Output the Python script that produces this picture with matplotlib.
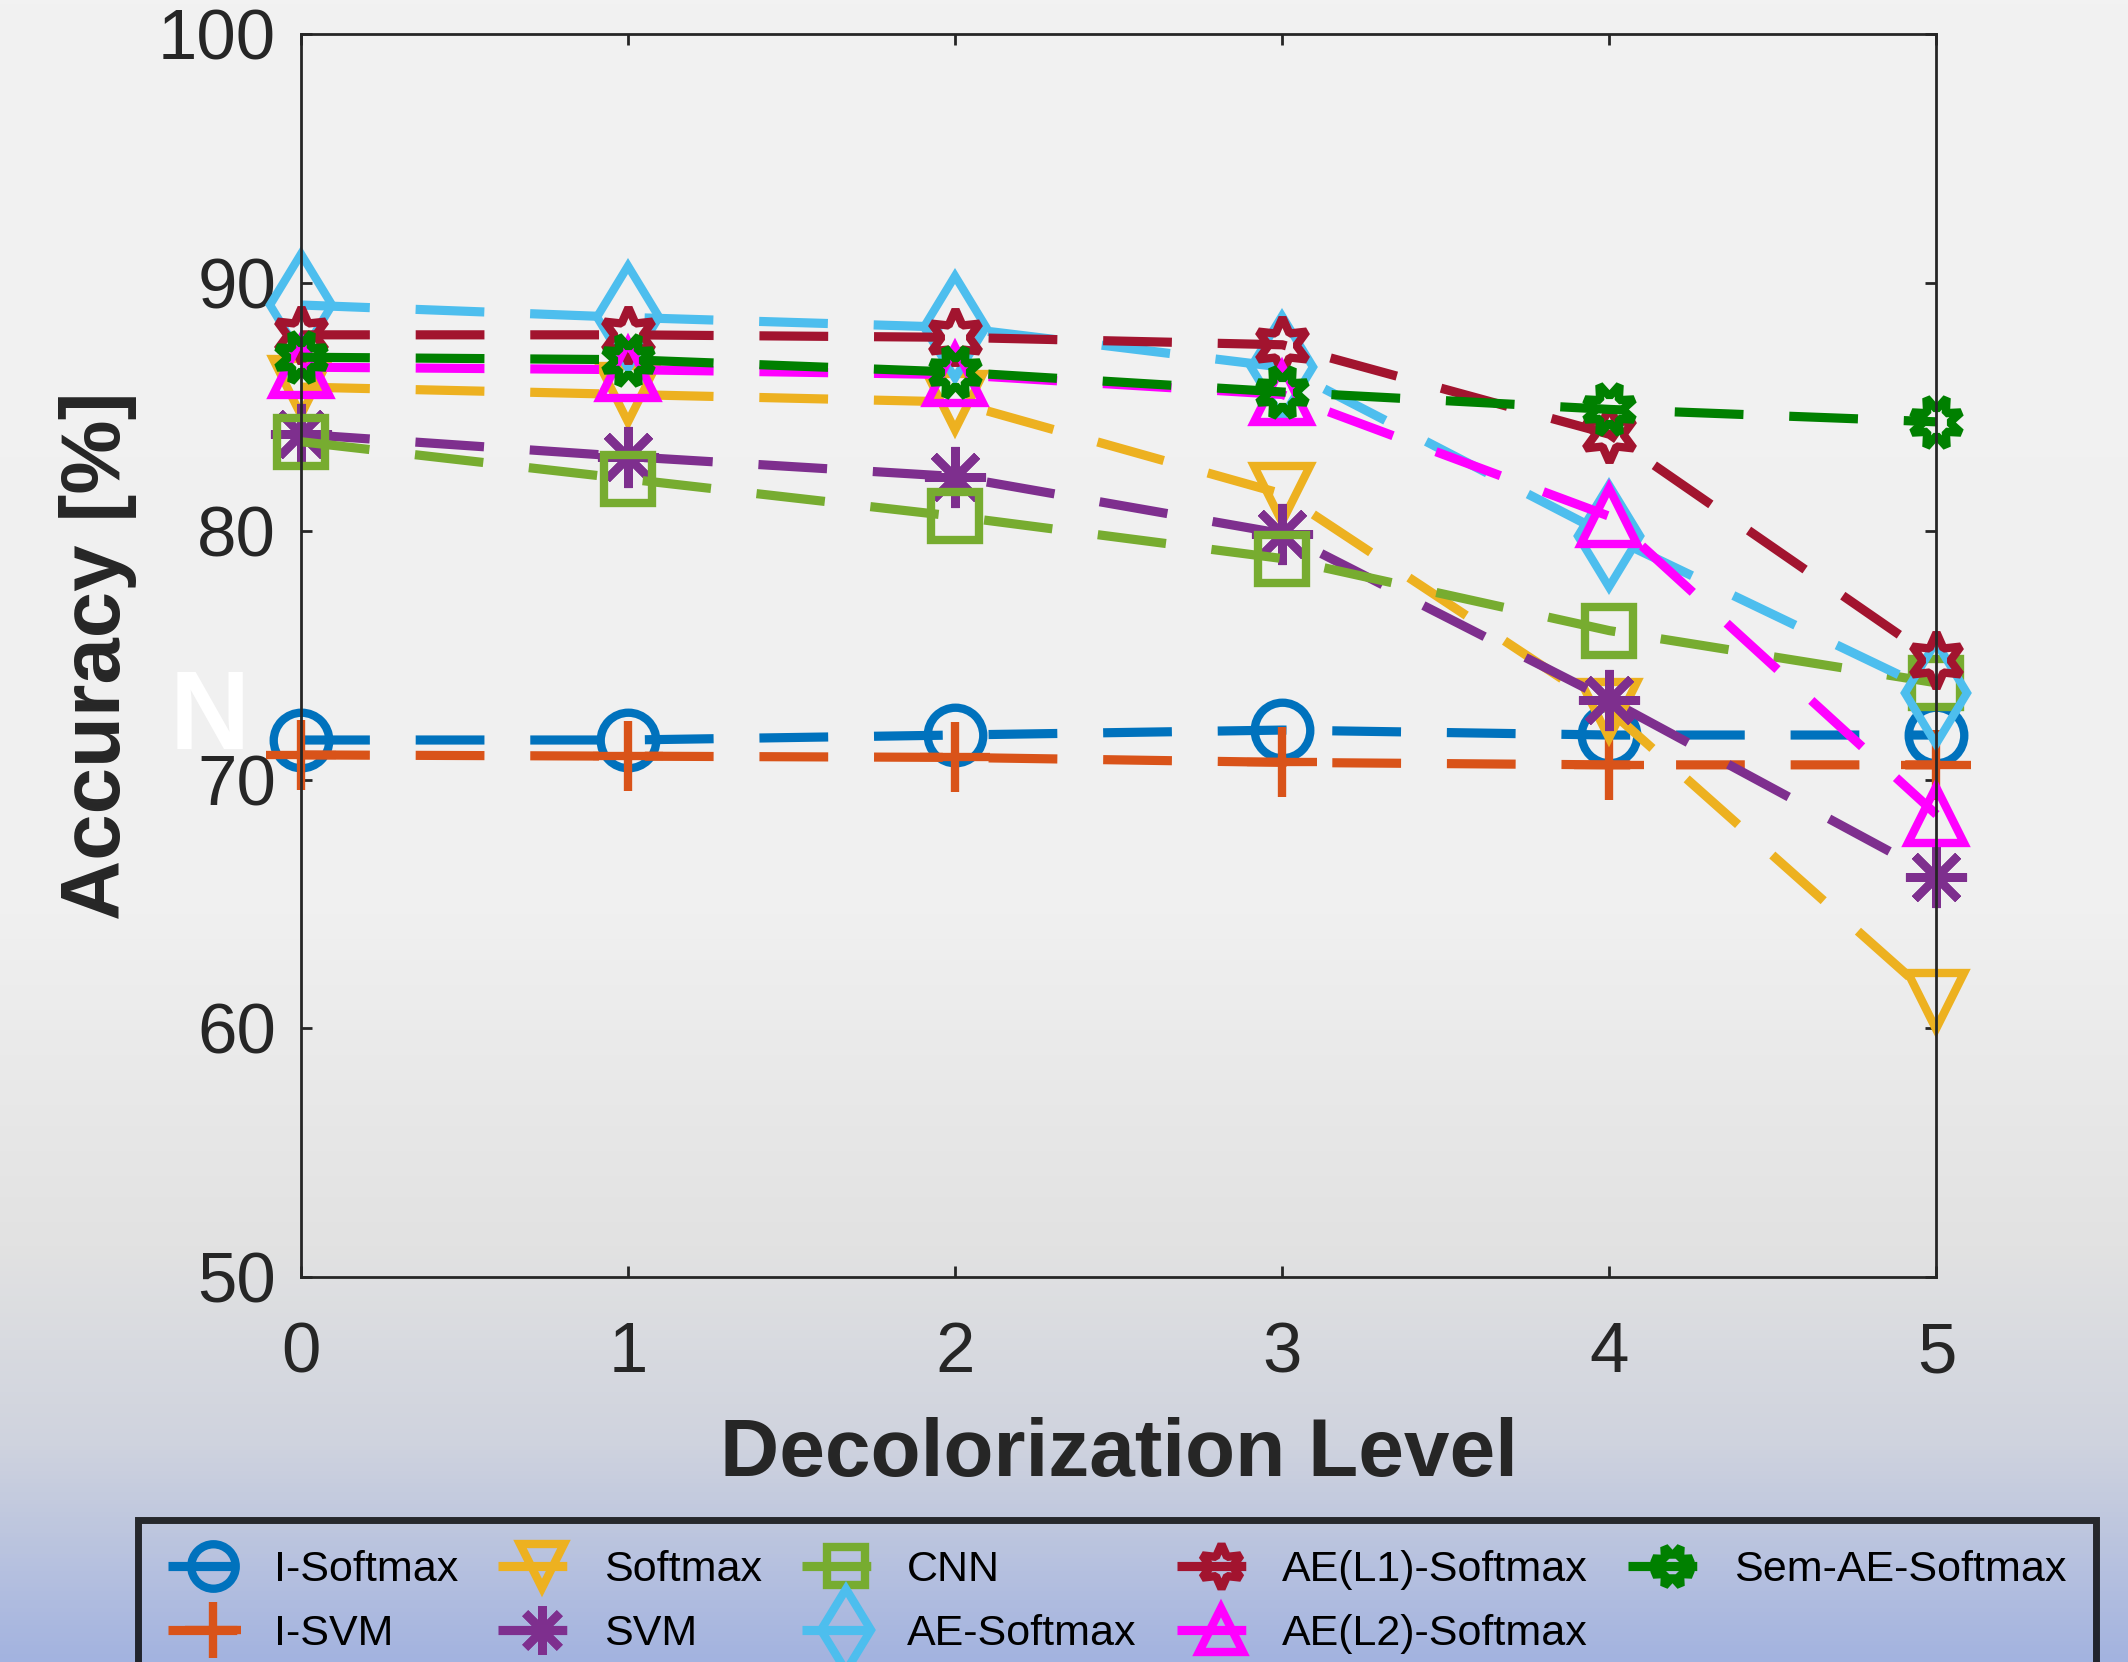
import numpy as np
import matplotlib
matplotlib.use("Agg")
import matplotlib.pyplot as plt
from matplotlib.colors import to_rgb

plt.rcParams['font.family'] = ['Liberation Sans', 'DejaVu Sans']

# decolorization levels
levels = [0, 1, 2, 3, 4, 5]

# accuracy [%]
i_softmax = [71.6, 71.6, 71.8, 72.0, 71.8, 71.8]
i_svm = [71.0, 70.95, 70.9, 70.7, 70.6, 70.6]
softmax = [85.8, 85.5, 85.2, 81.5, 72.8, 61.1]
svm = [83.9, 83.0, 82.2, 79.9, 73.2, 66.1]
cnn = [83.6, 82.1, 80.6, 78.9, 76.0, 73.9]
ae_softmax = [89.1, 88.6, 88.2, 86.6, 79.8, 73.5]
ae_l1 = [87.9, 87.9, 87.8, 87.5, 83.9, 74.8]
ae_l2 = [86.6, 86.5, 86.3, 85.5, 80.6, 68.6]
sem_ae = [87.0, 86.9, 86.4, 85.6, 84.9, 84.4]

names = ['I-Softmax', 'I-SVM', 'Softmax', 'SVM', 'CNN', 'AE-Softmax',
         'AE(L1)-Softmax', 'AE(L2)-Softmax', 'Sem-AE-Softmax']
series = [i_softmax, i_svm, softmax, svm, cnn, ae_softmax, ae_l1, ae_l2, sem_ae]
colors = ['#0072BD', '#D95319', '#EDB120', '#7E2F8E', '#77AC30', '#4DBEEE',
          '#A2142F', '#FF00FF', '#008000']
markers = ['o', '+', 'v', (8, 2, 0), 's', 'd', (6, 1, 0), '^', (8, 1, 22.5)]
msizes = [20, 25, 20, 22, 17, 26, 20, 20, 19]

fig = plt.figure(figsize=(10.64, 8.31), dpi=200)
fig.patch.set_facecolor('#f2f2f2')

# background gradient (gray -> light blue at the bottom)
bg = fig.add_axes([0, 0, 1, 1], zorder=-10)
stops = [0.0, 0.55, 0.75, 0.87, 1.0]
stop_cols = ['#f2f2f2', '#f0f0f0', '#e2e2e2', '#cfd3de', '#a3b3e0']
t = np.linspace(0, 1, 400)
grad = np.stack([np.interp(t, stops, [to_rgb(c)[i] for c in stop_cols]) for i in range(3)], axis=-1)
bg.imshow(grad[:, None, :], aspect='auto', extent=[0, 1, 0, 1])
bg.axis('off')

# stray white glyph at the left edge of the reference
fig.text(0.0985, 0.5665, 'N', color='white', fontsize=40, fontweight='bold',
         ha='center', va='center', zorder=-5)

ax = fig.add_axes([0.1415, 0.2317, 0.910 - 0.1415, 0.9795 - 0.2317])
ax.set_facecolor('none')

for vals, name, c, m, ms in zip(series, names, colors, markers, msizes):
    ax.plot(levels, vals, linestyle=(0, (7.5, 5)), linewidth=3.3, color=c,
            marker=m, markersize=ms, markerfacecolor='none', markeredgecolor=c,
            markeredgewidth=3.0, label=name, clip_on=False)

ax.set_xlim(0, 5)
ax.set_ylim(50, 100)
ax.set_xticks([0, 1, 2, 3, 4, 5])
ax.set_yticks([50, 60, 70, 80, 90, 100])
ax.tick_params(direction='in', length=4, width=1, colors='#262626', labelsize=25.5,
               top=True, right=True)
ax.tick_params(axis='x', pad=16)
ax.tick_params(axis='y', pad=9)
for s in ax.spines.values():
    s.set_color('#262626')
    s.set_linewidth(1)

ax.set_xlabel('Decolorization Level', fontsize=29.5, fontweight='bold', color='#262626', labelpad=10.5)
ax.set_ylabel('Accuracy [%]', fontsize=30, fontweight='bold', color='#262626', labelpad=7.5)

leg = ax.legend(loc='upper left', bbox_to_anchor=(0.065, 0.0854, 0.92, 0.0),
                bbox_transform=fig.transFigure, mode='expand', ncol=5,
                fontsize=15.5, handlelength=2.05, handletextpad=0.4, markerscale=0.8,
                labelspacing=0.55, borderpad=0.7, borderaxespad=0, fancybox=False)
leg.get_frame().set_facecolor('none')
leg.get_frame().set_edgecolor('black')
leg.get_frame().set_linewidth(2.5)

fig.savefig('out.png', dpi=200, facecolor=fig.get_facecolor())
